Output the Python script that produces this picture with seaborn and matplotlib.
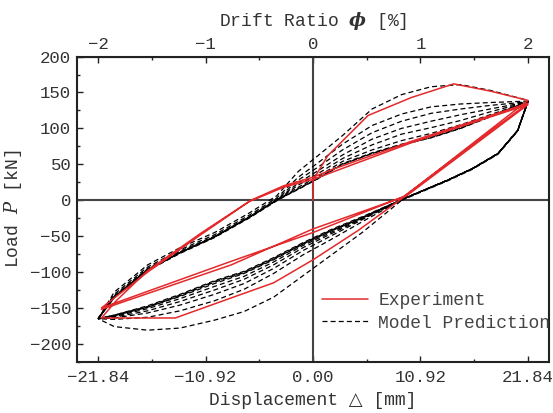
import numpy as np
import pandas as pd
import matplotlib.pyplot as plt
import seaborn as sns
from matplotlib.lines import Line2D

# deslocamentos onde os ramos do modelo foram lidos (mm)
up_x = [-21.84, -20.2, -16.8, -13.5, -10, -6.5, -3.7, -1.5, 0.5, 3, 6, 9, 12, 15, 18, 21.84]
lo_x = [21.84, 20.8, 18.8, 16.2, 13.7, 9.2, 5, 1.8, -1, -4, -7, -10, -13.5, -16.8, -20.2, -21.84]

# ramo de carga (negativo -> positivo), um por ciclo do modelo (kN)
model_up = [
    [-165, -128, -90, -66, -45, -18, 6, 40, 62, 90, 127, 147, 158, 161, 153, 139],
    [-165, -131, -93, -69, -48, -21, 3, 32, 52, 78, 104, 120, 130, 134, 136, 138],
    [-165, -133, -95, -71, -50, -23, 1, 28, 46, 70, 94, 110, 121, 127, 132, 137],
    [-165, -134, -96, -72, -51, -24, 0, 24, 41, 63, 85, 100, 110, 119, 127, 137],
    [-165, -135, -97, -73, -51, -24, 0, 21, 37, 58, 77, 92, 101, 111, 123, 137],
    [-165, -135, -97, -73, -51, -24, 0, 18, 33, 54, 70, 83, 93, 105, 119, 137],
    [-165, -135, -97, -73, -51, -24, 0, 16, 31, 51, 66, 78, 88, 101, 117, 137],
    [-165, -136, -98, -74, -52, -25, -1, 16, 30, 50, 65, 77, 87, 100, 116, 137],
    [-165, -135, -97, -73, -51, -24, 0, 15, 30, 50, 65, 77, 87, 100, 117, 137],
]
# ramo de descarga (positivo -> negativo)
model_lo = [
    [139, 97, 65, 44, 28, 2, -45, -77, -105, -135, -155, -167, -178, -181, -176, -165],
    [138, 97, 65, 44, 28, 2, -30, -55, -76, -102, -124, -140, -154, -163, -166, -165],
    [137, 97, 65, 44, 28, 2, -27, -50, -70, -95, -116, -131, -146, -157, -164, -165],
    [137, 97, 65, 44, 28, 2, -26, -47, -66, -90, -110, -125, -141, -154, -163, -165],
    [137, 97, 65, 44, 28, 2, -25, -45, -63, -86, -106, -120, -137, -151, -162, -165],
    [137, 97, 65, 44, 28, 2, -24, -43, -61, -83, -102, -116, -134, -149, -161, -165],
    [137, 97, 65, 44, 28, 2, -24, -42, -60, -81, -100, -113, -132, -148, -160, -165],
    [137, 96, 64, 43, 27, 1, -25, -43, -61, -82, -101, -114, -133, -149, -161, -165],
    [137, 97, 65, 44, 28, 2, -23, -41, -59, -80, -99, -112, -131, -147, -160, -165],
]

# ensaio (experimento)
exp_x = [0, 0, 1.5, 5.6, 10, 14.3, 18, 21.84, 9, 4.6, 0, -4, -8.3, -14, -21.5,
         -20, -16.8, -11.4, -6.3, -3, 0, 1.8, 10, 21.84, 9.2, 0, -8.3, -21.5,
         -16.8, -11.4, -6.5, -3, 0, 10, 21.84, 9.5, 0, -8.3, -21.5]
exp_P = [0, 28, 62, 118, 143, 162, 152, 139, 2, -42, -83, -115, -136, -164, -164,
         -140, -98, -46, 0, 20, 32, 42, 82, 135, 5, -45, -85, -150,
         -100, -48, -2, 18, 29, 80, 133, 6, -40, -90, -152]

x_ticks = [-21.84, -10.92, 0, 10.92, 21.84]
x_labels = ['\u221221.84', '\u221210.92', '0.00', '10.92', '21.84']
drift_ticks = [-2, -1, 0, 1, 2]
drift_labels = ['\u22122', '\u22121', '0', '1', '2']
y_ticks = [-200, -150, -100, -50, 0, 50, 100, 150, 200]

sns.set_style('ticks')
plt.rcParams['font.family'] = ['Liberation Mono', 'DejaVu Sans']
plt.rcParams['mathtext.fontset'] = 'custom'
plt.rcParams['mathtext.it'] = 'DejaVu Serif:italic'
plt.rcParams['mathtext.bf'] = 'DejaVu Serif:italic:bold'

fig, ax = plt.subplots(figsize=(5.53, 4.13), dpi=100)
fig.subplots_adjust(left=0.139, right=0.993, top=0.863, bottom=0.124)

ax.axhline(0, color='#444444', lw=1.5, zorder=1)
ax.axvline(0, color='#444444', lw=1.5, zorder=1)

# curvas do modelo (tracejadas)
for i, (u, l) in enumerate(zip(model_up, model_lo)):
    d = pd.DataFrame({'disp': up_x + lo_x[1:], 'load': u + l[1:]})
    sns.lineplot(data=d, x='disp', y='load', sort=False, estimator=None,
                 color='black', lw=0.9, linestyle=(i * 1.7, (4, 2.5)),
                 legend=False, ax=ax, zorder=2)

# experimento
exp = pd.DataFrame({'disp': exp_x, 'load': exp_P})
sns.lineplot(data=exp, x='disp', y='load', sort=False, estimator=None,
             color='#e3292b', lw=1.1, legend=False, ax=ax, zorder=3)

ax.set_xlim(-24, 24)
ax.set_ylim(-225, 200)

ax.set_xticks(x_ticks)
ax.set_xticklabels(x_labels)
ax.set_xticks([-16.38, -5.46, 5.46, 16.38], minor=True)
ax.set_yticks(y_ticks)
ax.set_yticks(np.arange(-225, 201, 25), minor=True)

ax.tick_params(which='both', direction='in', color='#222222', width=1,
               labelsize=12.5, labelcolor='#333333', top=False, right=False)
ax.tick_params(which='major', length=4, pad=6)
ax.tick_params(which='minor', length=2.5)
ax.tick_params(axis='y', pad=4)

for s in ax.spines.values():
    s.set_visible(True)
    s.set_linewidth(1.5)
    s.set_color('#222222')

sec = ax.secondary_xaxis('top', functions=(lambda d: d / 10.92, lambda r: r * 10.92))
sec.set_xticks(drift_ticks)
sec.set_xticklabels(drift_labels)
sec.set_xticks([-1.5, -0.5, 0.5, 1.5], minor=True)
sec.tick_params(which='both', direction='in', color='#222222', width=1,
                labelsize=12.5, labelcolor='#333333', pad=3)
sec.tick_params(which='major', length=4)
sec.tick_params(which='minor', length=2.5)
sec.set_xlabel(r'Drift Ratio $\mathbf{\phi}$ [%]', fontsize=13, color='#333333', labelpad=8)

ax.set_xlabel('Displacement \u25b3 [mm]', fontsize=13, color='#333333', labelpad=5)
ax.set_ylabel(r'Load $P$ [kN]', fontsize=13, color='#333333', labelpad=4)

handles = [Line2D([], [], color='#e3292b', lw=1.1),
           Line2D([], [], color='black', lw=0.9, linestyle=(0, (4, 2.5)))]
leg = ax.legend(handles, ['Experiment', 'Model Prediction'], loc='upper left',
                bbox_to_anchor=(0.52, 0.228), frameon=False, fontsize=13,
                handlelength=2.5, handletextpad=0.6, labelspacing=0.3,
                borderpad=0, borderaxespad=0)
for t in leg.get_texts():
    t.set_color('#444444')

fig.savefig('out.png', dpi=100)
